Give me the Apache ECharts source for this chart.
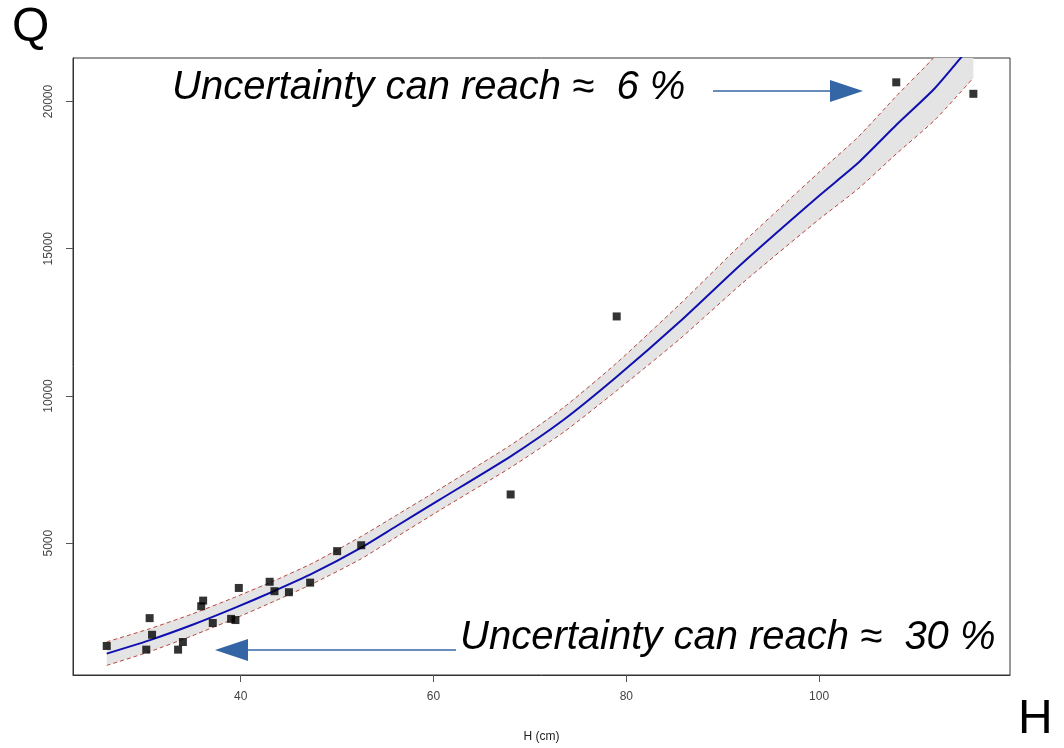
<!DOCTYPE html>
<html>
<head>
<meta charset="utf-8">
<script src="https://cdn.jsdelivr.net/npm/echarts@6/dist/echarts.min.js"></script>
<style>
  html, body { margin: 0; padding: 0; background: #fff; }
  #chart { width: 1064px; height: 748px; }
</style>
</head>
<body>
<div id="chart"></div>
<script>
// observed points: height H (cm) vs discharge Q
const hObs = [26.1, 30.55, 30.8, 30.2, 33.5, 34.0, 35.9, 36.1, 37.1, 39.0, 39.45, 39.8, 43.0, 43.5, 45.0, 47.2, 50.0, 52.5, 68.0, 79.0, 108.0, 116.0]
const qObs = [1510, 2455, 1890, 1385, 1385, 1645, 2860, 3050, 2290, 2430, 2390, 3480, 3690, 3370, 3335, 3660, 4730, 4930, 6655, 12700, 20650, 20260]

// rating curve and its uncertainty band
const hFit = [26.1, 30.5, 35, 39.5, 43.5, 47.5, 52.5, 56, 60.6, 68, 73.5, 79, 85.5, 92, 100, 104, 108, 112, 116]
const qFit = [1250, 1700, 2230, 2820, 3380, 3980, 4850, 5550, 6470, 7950, 9190, 10650, 12510, 14500, 16800, 17900, 19200, 20450, 22000]
const qUpper = [1650, 2090, 2600, 3180, 3730, 4330, 5230, 5920, 6830, 8330, 9610, 11120, 13100, 15180, 17600, 18780, 20180, 21530, 23200]
const qLower = [850, 1310, 1860, 2460, 3030, 3630, 4470, 5180, 6110, 7570, 8770, 10180, 11920, 13820, 16000, 17020, 18220, 19370, 20800]

const xTicks = [40, 60, 80, 100]
const yTicks = [5000, 10000, 15000, 20000]

const pairs = (xs, ys) => xs.map((x, i) => [x, ys[i]])
const axisFont = { fontFamily: 'Liberation Sans, Arial, sans-serif', fontSize: 12, color: '#444' }
const noteFont = 'italic 40px "Liberation Sans", Arial, sans-serif'
const bigFont = '48px "Liberation Sans", Arial, sans-serif'
const arrowBlue = '#3465a4'

// grey band between the lower and upper bounds, drawn as one polygon
function renderBand(params, api) {
  if (params.dataIndex !== 0) return null
  const top = hFit.map((x, i) => api.coord([x, qUpper[i]]))
  const bottom = hFit.map((x, i) => api.coord([x, qLower[i]])).reverse()
  return {
    type: 'polygon',
    shape: { points: top.concat(bottom) },
    style: { fill: '#e4e4e4' }
  }
}

const chart = echarts.init(document.getElementById('chart'))
chart.setOption({
  animation: false,
  backgroundColor: '#fff',
  grid: { left: 73, right: 54, top: 58, bottom: 72, show: true, borderColor: '#333', borderWidth: 1, backgroundColor: 'transparent' },
  xAxis: {
    type: 'value', min: 22.6, max: 119.8,
    name: 'H (cm)', nameLocation: 'middle', nameGap: 56,
    nameTextStyle: { ...axisFont, color: '#222' },
    splitLine: { show: false },
    axisLine: { show: true, onZero: false, lineStyle: { color: '#333' } },
    axisTick: { show: true, inside: false, length: 7, lineStyle: { color: '#555' }, customValues: xTicks },
    axisLabel: { ...axisFont, margin: 16, customValues: xTicks }
  },
  yAxis: {
    type: 'value', min: 524, max: 21476,
    splitLine: { show: false },
    axisLine: { show: true, onZero: false, lineStyle: { color: '#333' } },
    axisTick: { show: true, inside: false, length: 7, lineStyle: { color: '#555' }, customValues: yTicks },
    axisLabel: { ...axisFont, rotate: 90, margin: 18, customValues: yTicks, formatter: (v) => String(v) }
  },
  series: [
    {
      type: 'custom', data: hFit, renderItem: renderBand, clip: true, silent: true, z: 1
    },
    {
      type: 'line', data: pairs(hFit, qUpper), symbol: 'none', smooth: 0.2,
      lineStyle: { color: '#b8453f', width: 1, type: [4, 3] }, z: 2
    },
    {
      type: 'line', data: pairs(hFit, qLower), symbol: 'none', smooth: 0.2,
      lineStyle: { color: '#b8453f', width: 1, type: [4, 3] }, z: 2
    },
    {
      type: 'line', data: pairs(hFit, qFit), symbol: 'none', smooth: 0.2,
      lineStyle: { color: '#1010b0', width: 2 }, z: 3
    },
    {
      type: 'scatter', data: pairs(hObs, qObs), symbol: 'rect', symbolSize: 8,
      itemStyle: { color: '#000' }, z: 4
    }
  ],
  graphic: [
    { type: 'text', left: 12, top: 4, style: { text: 'Q', font: bigFont, fill: '#000' } },
    { type: 'text', left: 1018, top: 696, style: { text: 'H', font: bigFont, fill: '#000' } },
    { type: 'text', left: 172, top: 68, style: { text: 'Uncertainty can reach ≈  6 %', font: noteFont, fill: '#000' } },
    { type: 'text', left: 460, top: 618, style: { text: 'Uncertainty can reach ≈  30 %', font: noteFont, fill: '#000' } },
    // arrow towards the upper points
    { type: 'line', shape: { x1: 713, y1: 91, x2: 832, y2: 91 }, style: { stroke: arrowBlue, lineWidth: 1.5 } },
    { type: 'polygon', shape: { points: [[830, 80], [863, 91], [830, 102]] }, style: { fill: arrowBlue } },
    // arrow towards the lower points
    { type: 'line', shape: { x1: 456, y1: 650, x2: 246, y2: 650 }, style: { stroke: arrowBlue, lineWidth: 1.5 } },
    { type: 'polygon', shape: { points: [[248, 639], [215, 650], [248, 661]] }, style: { fill: arrowBlue } }
  ]
})
</script>
</body>
</html>
